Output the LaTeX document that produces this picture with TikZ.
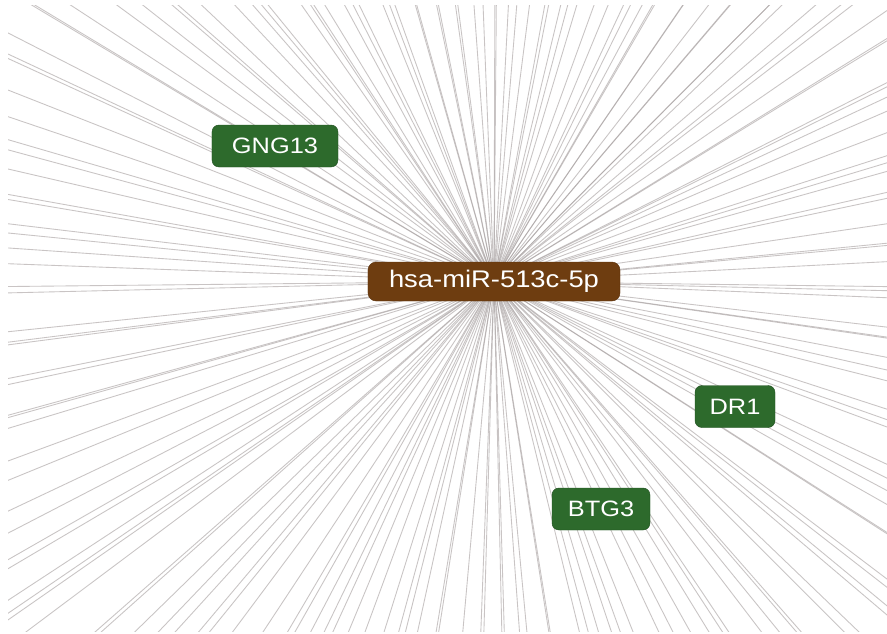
\documentclass[tikz,border=0pt]{standalone}
\usepackage{fontspec}
\usetikzlibrary{calc}
\newfontfamily\nodefont[FakeStretch=1.14]{Liberation Sans}
\definecolor{hubbrown}{RGB}{110,61,16}
\definecolor{genegreen}{RGB}{45,106,44}
\definecolor{genegreenedge}{RGB}{30,80,30}
\definecolor{edgegray}{RGB}{165,158,158}
\tikzset{
  hubbox/.style={draw=hubbrown!85!black, fill=hubbrown, rounded corners=7pt,
    text=white, inner sep=0pt, minimum width=7.56cm, minimum height=1.17cm,
    font=\nodefont\fontsize{20.5}{22}\selectfont},
  genebox/.style={draw=genegreenedge, fill=genegreen, rounded corners=6pt,
    text=white, inner sep=0pt, minimum height=1.26cm,
    font=\nodefont\fontsize{19}{21}\selectfont},
  link/.style={draw=edgegray, draw opacity=0.6, line width=0.75pt}
}
\begin{document}
\begin{tikzpicture}[x=0.03cm,y=-0.03cm]
  \useasboundingbox (0,0) rectangle (887,633);
  \fill[white] (0,0) rectangle (887,633);
  \coordinate (hubc) at (494,281.5);
  % interaction edges radiating from the miRNA, spread evenly with jitter
  \begin{scope}
    \clip (8,5) rectangle (887,631);
    \pgfmathsetseed{2024}
    \foreach \i in {1,...,180}{
      \pgfmathsetmacro{\ang}{(\i + 1.6*rnd)*2}
      \coordinate (e\i) at ($(hubc)+(\ang:1000)$);
      \draw[link] (hubc) -- (e\i);
    }
  \end{scope}
  % nodes
  \node[hubbox] (hub) at (hubc) {hsa-miR-513c-5p};
  \node[genebox, minimum width=3.78cm] (gng13) at (275,146) {GNG13};
  \node[genebox, minimum width=2.4cm] (dr1) at (735,406.5) {DR1};
  \node[genebox, minimum width=2.94cm] (btg3) at (601,509) {BTG3};
\end{tikzpicture}
\end{document}
